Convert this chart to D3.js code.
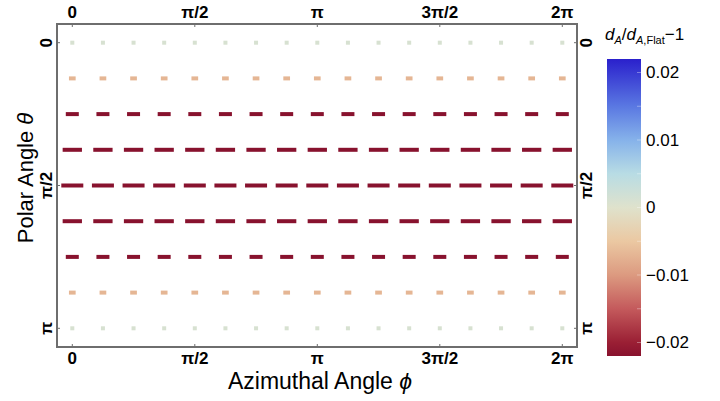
<!DOCTYPE html>
<html>
<head>
<meta charset="utf-8">
<script src="https://cdnjs.cloudflare.com/ajax/libs/d3/7.8.5/d3.min.js"></script>
<style>
  body { margin: 0; background: #fff; }
  svg { font-family: "Liberation Sans", Arial, sans-serif; }
</style>
</head>
<body>
<div id="chart"></div>
<script>
// grid of sample directions, in units of pi/8
var phiSteps = [0, 1, 2, 3, 4, 5, 6, 7, 8, 9, 10, 11, 12, 13, 14, 15, 16];
var thetaSteps = [0, 1, 2, 3, 4, 5, 6, 7, 8];

// d_A/d_A,Flat - 1 for each polar row (same for all phi)
var rowValues = [0.001, -0.007, -0.023, -0.025, -0.025, -0.025, -0.023, -0.007, 0.001];
// relative size of the marker in each row
var rowAmp = [0, 0.15, 0.5, 0.85, 1, 0.85, 0.5, 0.15, 0];

// tick labels
var phiTicks = [0, 4, 8, 12, 16];
var phiLabels = ["0", "π/2", "π", "3π/2", "2π"];
var thetaTicks = [0, 4, 8];
var thetaLabels = ["0", "π/2", "π"];
var barTicks = [-0.02, -0.01, 0, 0.01, 0.02];
var barLabels = ["−0.02", "−0.01", "0", "0.01", "0.02"];

// colour map (red - beige - blue)
var cmapDomain = [-0.022, -0.02, -0.015, -0.01, -0.005, 0, 0.005, 0.01, 0.015, 0.022];
var cmapColors = ["#88122e", "#9a1f34", "#c45a5c", "#dc9a80", "#ebc8a2", "#dfe2cc", "#b8dce4", "#86b2ea", "#5a78e2", "#2a20cc"];

var W = 720, H = 401;
var box = {left: 57, top: 24, width: 520, height: 323};

var svg = d3.select("#chart")
  .append("svg")
    .attr("width", W)
    .attr("height", H);

var x = d3.scaleLinear()
    .domain([0, 16])
    .range([72.3, 562.3]);

var y = d3.scaleLinear()
    .domain([0, 8])
    .range([42.7, 328.3]);

var len = d3.scaleLinear()
    .domain([0, 1])
    .range([4, 22]);

var color = d3.scaleLinear()
    .domain(cmapDomain)
    .range(cmapColors)
    .clamp(true);

// frame
svg.append("rect")
    .attr("x", box.left)
    .attr("y", box.top)
    .attr("width", box.width)
    .attr("height", box.height)
    .style("fill", "none")
    .style("stroke", "#6e6e6e")
    .style("stroke-width", "2px");

// tick marks on the frame
var fb = box.top + box.height, fr = box.left + box.width;
phiTicks.forEach(function(t) {
  svg.append("line").attr("x1", x(t)).attr("x2", x(t)).attr("y1", box.top).attr("y2", box.top + 3)
    .style("stroke", "#6e6e6e");
  svg.append("line").attr("x1", x(t)).attr("x2", x(t)).attr("y1", fb).attr("y2", fb - 3)
    .style("stroke", "#6e6e6e");
});
thetaTicks.forEach(function(t) {
  svg.append("line").attr("x1", box.left).attr("x2", box.left + 3).attr("y1", y(t)).attr("y2", y(t))
    .style("stroke", "#6e6e6e");
  svg.append("line").attr("x1", fr).attr("x2", fr - 3).attr("y1", y(t)).attr("y2", y(t))
    .style("stroke", "#6e6e6e");
});

// markers
var cells = [];
thetaSteps.forEach(function(t, i) {
  phiSteps.forEach(function(p) {
    cells.push({phi: p, theta: t, value: rowValues[i], amp: rowAmp[i]});
  });
});

svg.append("g")
  .selectAll("rect")
  .data(cells)
  .enter()
  .append("rect")
    .attr("x", function(d) { return x(d.phi) - len(d.amp) / 2; })
    .attr("y", function(d) { return y(d.theta) - 2; })
    .attr("width", function(d) { return len(d.amp); })
    .attr("height", 4)
    .attr("fill", function(d) { return color(d.value); });

// tick labels
var tickFont = {size: "17px", weight: "bold"};
phiTicks.forEach(function(t, i) {
  [18, 364].forEach(function(yy) {
    svg.append("text")
      .attr("x", x(t))
      .attr("y", yy)
      .attr("text-anchor", "middle")
      .attr("font-size", tickFont.size)
      .attr("font-weight", tickFont.weight)
      .text(phiLabels[i]);
  });
});
thetaTicks.forEach(function(t, i) {
  [52, 592].forEach(function(xx) {
    svg.append("text")
      .attr("transform", "translate(" + xx + "," + y(t) + ") rotate(-90)")
      .attr("text-anchor", "middle")
      .attr("font-size", tickFont.size)
      .attr("font-weight", tickFont.weight)
      .text(thetaLabels[i]);
  });
});

// axis titles
var xt = svg.append("text")
    .attr("x", 320)
    .attr("y", 389)
    .attr("text-anchor", "middle")
    .attr("font-size", "23px");
xt.append("tspan").text("Azimuthal Angle ");
xt.append("tspan").attr("font-style", "italic").text("ϕ");

var yt = svg.append("text")
    .attr("transform", "translate(33,178) rotate(-90)")
    .attr("text-anchor", "middle")
    .attr("font-size", "22px");
yt.append("tspan").text("Polar Angle ");
yt.append("tspan").attr("font-style", "italic").text("θ");

// colour bar
var bar = {x: 607, y: 59, width: 34, height: 297};
var cy = d3.scaleLinear()
    .domain([cmapDomain[0], cmapDomain[cmapDomain.length - 1]])
    .range([bar.y + bar.height, bar.y]);

var grad = svg.append("defs").append("linearGradient")
    .attr("id", "cbar")
    .attr("x1", 0).attr("y1", 1).attr("x2", 0).attr("y2", 0);
cmapDomain.forEach(function(v, i) {
  grad.append("stop")
    .attr("offset", (v - cmapDomain[0]) / (cmapDomain[cmapDomain.length - 1] - cmapDomain[0]))
    .attr("stop-color", cmapColors[i]);
});

svg.append("rect")
    .attr("x", bar.x)
    .attr("y", bar.y)
    .attr("width", bar.width)
    .attr("height", bar.height)
    .attr("fill", "url(#cbar)");

var barAxis = d3.axisRight(cy)
    .tickValues(barTicks)
    .tickSize(0)
    .tickPadding(5)
    .tickFormat(function(d, i) { return barLabels[i]; });

var ba = svg.append("g")
    .attr("transform", "translate(" + (bar.x + bar.width) + ",0)")
    .call(barAxis);
ba.select(".domain").remove();
ba.selectAll("text")
    .attr("font-family", "Liberation Sans, Arial, sans-serif")
    .attr("font-size", "17px")
    .attr("fill", "#000");

// faint ticks inside bar
svg.append("g")
  .selectAll("line")
  .data(cy.ticks(10))
  .enter()
  .append("line")
    .attr("x1", bar.x + bar.width - 4)
    .attr("x2", bar.x + bar.width)
    .attr("y1", function(d) { return cy(d); })
    .attr("y2", function(d) { return cy(d); })
    .attr("stroke", "#ffffff")
    .attr("stroke-opacity", 0.35);

// colour bar title
var ct = svg.append("text")
    .attr("x", 605)
    .attr("y", 40)
    .attr("font-size", "17px");
ct.append("tspan").attr("font-style", "italic").text("d");
ct.append("tspan").attr("font-style", "italic").attr("font-size", "11px").attr("dy", 4).text("A");
ct.append("tspan").attr("dy", -4).text("/");
ct.append("tspan").attr("font-style", "italic").text("d");
ct.append("tspan").attr("font-size", "11px").attr("dy", 4)
  .append("tspan").attr("font-style", "italic").text("A");
ct.append("tspan").attr("font-size", "11px").text(",Flat");
ct.append("tspan").attr("dy", -4).text("−1");
</script>
</body>
</html>
